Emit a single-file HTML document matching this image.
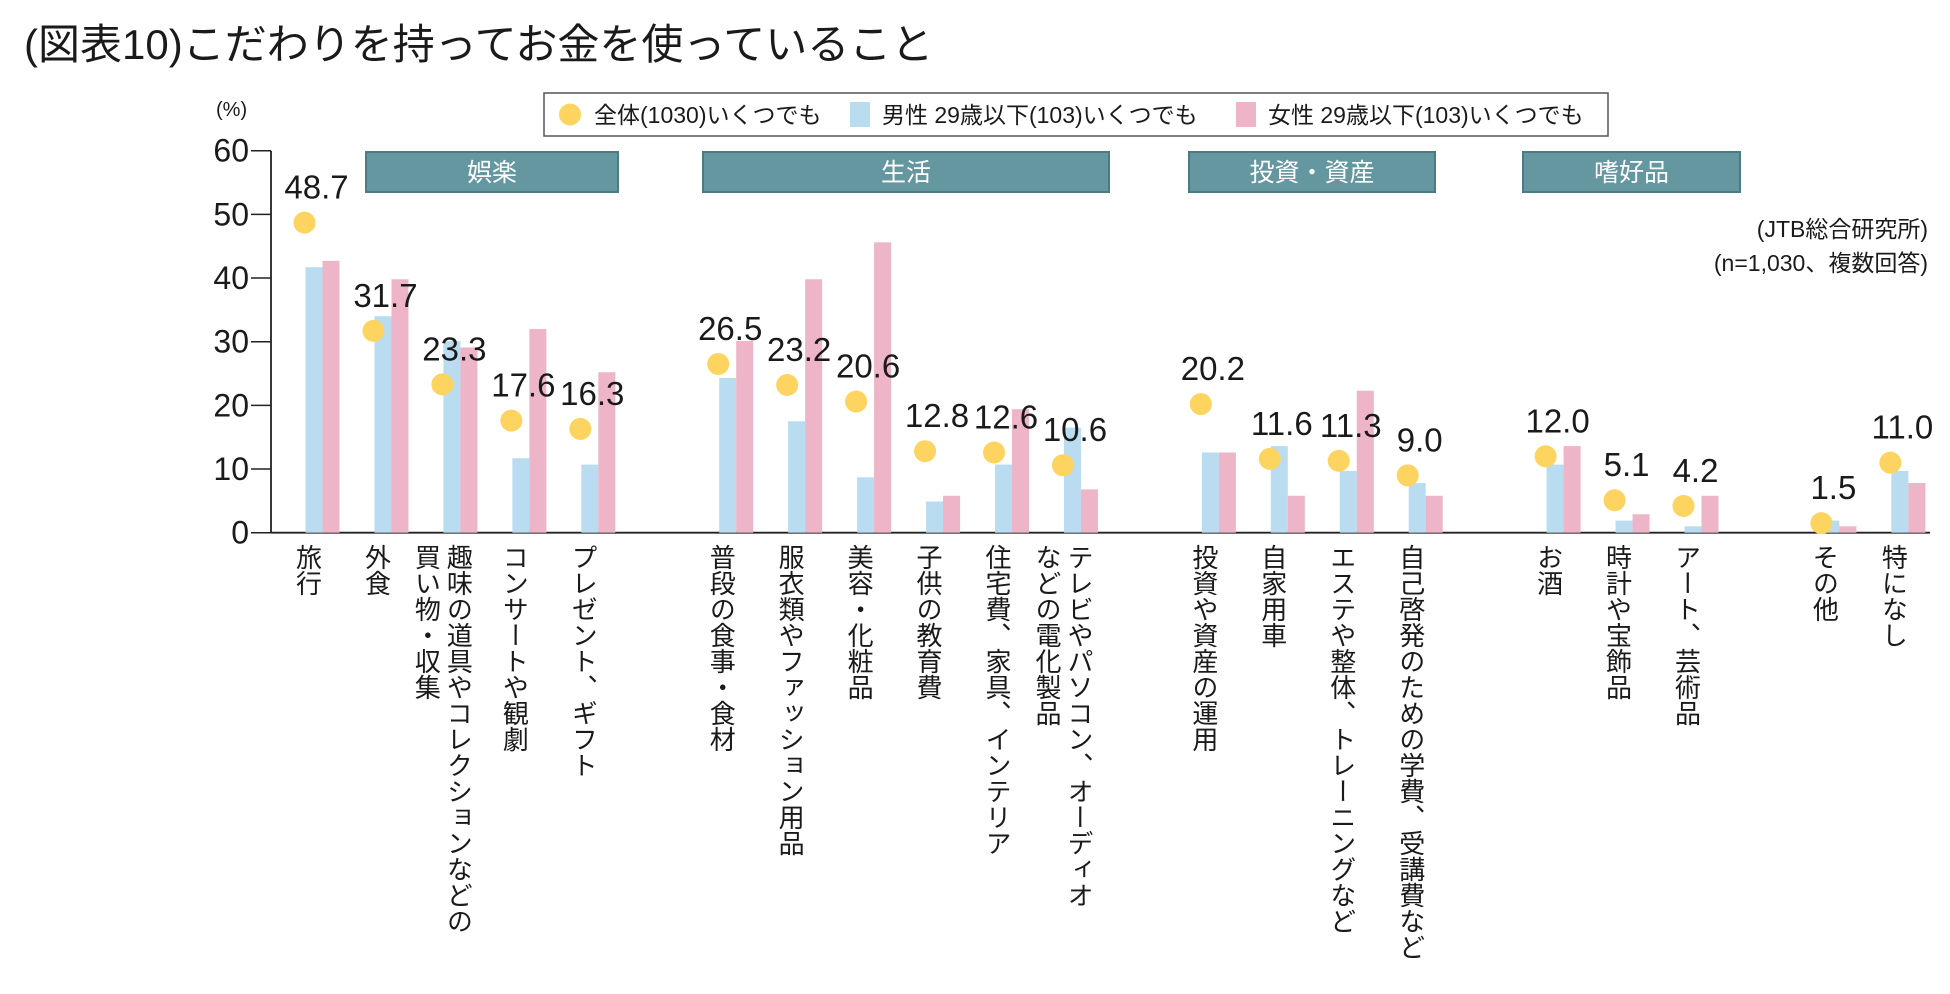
<!DOCTYPE html>
<html><head><meta charset="utf-8">
<style>
body{margin:0;background:#fff;overflow:hidden;}
svg text{font-family:"Liberation Sans","Noto Sans CJK JP",sans-serif;fill:#1a1a1a;}
</style></head>
<body>
<svg id="chart" width="1950" height="989" viewBox="0 0 1950 989" xmlns="http://www.w3.org/2000/svg">
<text x="24" y="59" font-size="42">(図表10)こだわりを持ってお金を使っていること</text>
<text x="216" y="116" font-size="20">(%)</text>
<g>
<rect x="544" y="93" width="1064" height="43" fill="#fff" stroke="#555" stroke-width="1.5"/>
<circle cx="570" cy="114.5" r="11" fill="#fcd45f"/>
<text x="594" y="123" font-size="23">全体(1030)いくつでも</text>
<rect x="850" y="102" width="20" height="25" fill="#b9dcf1"/>
<text x="882" y="123" font-size="23">男性 29歳以下(103)いくつでも</text>
<rect x="1236" y="102" width="20" height="25" fill="#eeb4c7"/>
<text x="1268" y="123" font-size="23">女性 29歳以下(103)いくつでも</text>
</g>
<g id="banners"></g>
<text x="1928" y="237" font-size="23" text-anchor="end">(JTB総合研究所)</text>
<text x="1928" y="271" font-size="23" text-anchor="end">(n=1,030、複数回答)</text>
<g id="axis"></g>
<g id="marks"></g>
</svg>
<script>
const categories=["旅行","外食","趣味の道具やコレクションなどの|買い物・収集","コンサートや観劇","プレゼント、ギフト","普段の食事・食材","服衣類やファッション用品","美容・化粧品","子供の教育費","住宅費、家具、インテリア","テレビやパソコン、オーディオ|などの電化製品","投資や資産の運用","自家用車","エステや整体、トレーニングなど","自己啓発のための学費、受講費など","お酒","時計や宝飾品","アート、芸術品","その他","特になし"];
const slots=[0,1,2,3,4,6,7,8,9,10,11,13,14,15,16,18,19,20,22,23];
const totalValues=[48.7,31.7,23.3,17.6,16.3,26.5,23.2,20.6,12.8,12.6,10.6,20.2,11.6,11.3,9.0,12.0,5.1,4.2,1.5,11.0];
const maleValues=[41.7,34.0,30.1,11.7,10.7,24.3,17.5,8.7,4.9,10.7,16.5,12.6,13.6,9.7,7.8,10.7,1.9,1.0,1.9,9.7];
const femaleValues=[42.7,39.8,29.1,32.0,25.2,30.1,39.8,45.6,5.8,19.4,6.8,12.6,5.8,22.3,5.8,13.6,2.9,5.8,1.0,7.8];
const yTicks=[0,10,20,30,40,50,60];
const groupNames=["娯楽","生活","投資・資産","嗜好品"];

const NS="http://www.w3.org/2000/svg";
const y0=532.7,y60=150.7;
const bannerBoxes=[[366,618],[703,1109],[1189,1435],[1523,1740]];
function yScale(v){return y0-(y0-y60)*v/60;}
function xScale(s){return 304.5+68.95*s;}
function mk(tag,attrs,parent){const e=document.createElementNS(NS,tag);for(const k in attrs)e.setAttribute(k,attrs[k]);parent.appendChild(e);return e;}
const axis=document.getElementById('axis'),marks=document.getElementById('marks'),banners=document.getElementById('banners');

const yl=mk('line',{x1:271,y1:y60,x2:271,y2:y0,stroke:'#222','stroke-width':1.8},axis);


const xl=mk('line',{x1:271,y1:y0,x2:1930,y2:y0,stroke:'#222','stroke-width':1.8},axis);


yTicks.forEach(t=>{
  const y=yScale(t);
  const tk=mk('line',{x1:251,y1:y,x2:271,y2:y,stroke:'#222','stroke-width':1.5},axis);
  
  
  const tx=mk('text',{x:249,y:y+11,'font-size':32,'text-anchor':'end'},axis);
  tx.textContent=t;
  
  
});

groupNames.forEach((g,i)=>{
  const x1=bannerBoxes[i][0], x2=bannerBoxes[i][1];
  const r=mk('rect',{x:x1,y:152,width:x2-x1,height:40,fill:'#6497a0',stroke:'#4b7b83','stroke-width':2},banners);
  
  
  const t=mk('text',{x:(x1+x2)/2,y:181,'font-size':25,'text-anchor':'middle',style:'fill:#fff'},banners);
  t.textContent=g;
  
  
});

const bw=17;
categories.forEach((c,i)=>{
  const cx=xScale(slots[i]);
  const b1=mk('rect',{x:cx+1,y:yScale(maleValues[i]),width:bw,height:y0-yScale(maleValues[i]),fill:'#b9dcf1'},marks);
  
  
  const b2=mk('rect',{x:cx+1+bw,y:yScale(femaleValues[i]),width:bw,height:y0-yScale(femaleValues[i]),fill:'#eeb4c7'},marks);
  
  
  const cy=yScale(totalValues[i]);
  const d=mk('circle',{cx:cx,cy:cy,r:11,fill:'#fcd45f'},marks);
  
  
  const v=mk('text',{x:cx+12,y:cy-24,'font-size':33,'text-anchor':'middle'},marks);
  v.textContent=totalValues[i].toFixed(1);
  
  
  const parts=c.split('|');
  parts.forEach((p,j)=>{
    const off = parts.length===1 ? 3 : (j===0 ? 16 : -16);
    const lbl=mk('text',{x:cx+off,y:544,'font-size':26,style:'writing-mode:vertical-rl;glyph-orientation-vertical:0'},marks);
    lbl.textContent=p;
    
    
  });
});
</script>
</body></html>
